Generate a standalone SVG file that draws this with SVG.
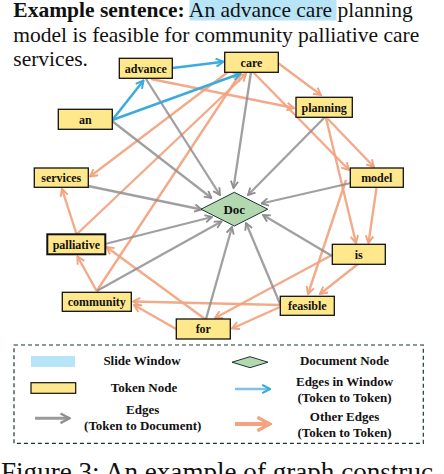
<svg xmlns="http://www.w3.org/2000/svg" width="444" height="474" viewBox="0 0 444 474">
<style>
.tok rect{fill:#FFE88C;stroke:#111;stroke-width:1.3}
.tok text,.doc text{font-family:"Liberation Serif",serif;font-weight:bold;font-size:12px;text-anchor:middle;fill:#111}
.doc polygon{fill:#B3D8B0;stroke:#1d3535;stroke-width:1}
.g{stroke:#8f8f8f;stroke-opacity:0.85;stroke-width:2.3;fill:none;marker-end:url(#ag)}
.o{stroke:#F2A37F;stroke-opacity:0.92;stroke-width:2.4;fill:none;marker-end:url(#ao)}
.b{stroke:#3BABDF;stroke-width:2.5;fill:none;marker-end:url(#ab)}
.lg{font-family:"Liberation Serif",serif;font-weight:bold;font-size:13px;text-anchor:middle;fill:#111}
.main{font-family:"Liberation Serif",serif;font-size:21.5px;fill:#111}
</style>
<defs>
<marker id="ag" viewBox="0 0 10 10" refX="9" refY="5" markerWidth="4" markerHeight="4" orient="auto" markerUnits="strokeWidth"><path d="M1.5,1 L9,5 L1.5,9" fill="none" stroke="#8f8f8f" stroke-width="2"/></marker>
<marker id="ao" viewBox="0 0 10 10" refX="9" refY="5" markerWidth="4" markerHeight="4" orient="auto" markerUnits="strokeWidth"><path d="M1.5,1 L9,5 L1.5,9" fill="none" stroke="#F2A37F" stroke-width="2"/></marker>
<marker id="ab" viewBox="0 0 10 10" refX="9" refY="5" markerWidth="4" markerHeight="4" orient="auto" markerUnits="strokeWidth"><path d="M1.5,1 L9,5 L1.5,9" fill="none" stroke="#3BABDF" stroke-width="2"/></marker>
</defs>
<rect x="0" y="0" width="444" height="474" fill="#fff"/>
<rect x="189.5" y="-0.5" width="147" height="21" fill="#B8E4F7"/>
<text class="main" x="13.3" y="16.8"><tspan font-weight="bold">Example sentence:</tspan> An advance care planning</text>
<text class="main" x="13.3" y="41.5">model is feasible for community palliative care</text>
<text class="main" x="13.3" y="66">services.</text>
<g id="connectors">
<line class="o" x1="151" y1="79" x2="294" y2="108"/>
<line class="o" x1="278" y1="63" x2="321" y2="95"/>
<line class="o" x1="253" y1="72" x2="349" y2="170"/>
<line class="o" x1="326" y1="117" x2="374" y2="167"/>
<line class="o" x1="326" y1="118" x2="356" y2="243"/>
<line class="o" x1="376.5" y1="188" x2="368.5" y2="243"/>
<line class="o" x1="346" y1="180" x2="308" y2="294"/>
<line class="o" x1="358" y1="264" x2="320" y2="294"/>
<line class="o" x1="332" y1="255" x2="215" y2="318"/>
<line class="o" x1="280" y1="307" x2="232" y2="328.5"/>
<line class="o" x1="280" y1="305" x2="133" y2="301.5"/>
<line class="o" x1="177" y1="329.5" x2="134" y2="305"/>
<line class="o" x1="205" y1="319" x2="106.5" y2="247"/>
<line class="o" x1="96.7" y1="291" x2="77.5" y2="256.5"/>
<line class="o" x1="96.7" y1="291" x2="240" y2="74"/>
<line class="o" x1="77" y1="234" x2="246" y2="74"/>
<line class="o" x1="76.5" y1="234" x2="62" y2="189"/>
<line class="o" x1="228" y1="72" x2="90" y2="176.5"/>
<line class="g" x1="112" y1="121" x2="211.5" y2="198"/>
<line class="g" x1="146" y1="79" x2="220" y2="195"/>
<line class="g" x1="251" y1="72" x2="233.5" y2="188"/>
<line class="g" x1="325" y1="117" x2="248" y2="195"/>
<line class="g" x1="351" y1="183" x2="261.5" y2="203.5"/>
<line class="g" x1="332" y1="256" x2="263" y2="215"/>
<line class="g" x1="280.5" y1="305" x2="246" y2="223"/>
<line class="g" x1="206" y1="319" x2="232" y2="227"/>
<line class="g" x1="96.7" y1="291" x2="221.5" y2="221.5"/>
<line class="g" x1="105" y1="244" x2="212" y2="217"/>
<line class="g" x1="88" y1="186" x2="201.5" y2="209.5"/>
<line class="b" x1="112.3" y1="120" x2="143.5" y2="80.5"/>
<line class="b" x1="112.3" y1="120" x2="240.5" y2="73.5"/>
<line class="b" x1="172.5" y1="68" x2="223.5" y2="61.7"/>
</g>
<g id="node-an" class="tok"><rect x="58.3" y="109.3" width="54" height="20"/><text x="85.3" y="123.5">an</text></g>
<g id="node-advance" class="tok"><rect x="119.3" y="58.3" width="53" height="20"/><text x="145.8" y="72.5">advance</text></g>
<g id="node-care" class="tok"><rect x="224.7" y="52.3" width="53.6" height="20"/><text x="251.5" y="66.5">care</text></g>
<g id="node-planning" class="tok"><rect x="296" y="97.3" width="56.3" height="20"/><text x="324.2" y="111.5">planning</text></g>
<g id="node-model" class="tok"><rect x="350.3" y="168" width="53" height="19.3"/><text x="376.8" y="182">model</text></g>
<g id="node-is" class="tok"><rect x="332.3" y="244.3" width="53" height="20"/><text x="358.8" y="258.5">is</text></g>
<g id="node-feasible" class="tok"><rect x="280.3" y="296.3" width="54" height="19"/><text x="307.3" y="310">feasible</text></g>
<g id="node-for" class="tok"><rect x="176.3" y="319" width="54" height="20"/><text x="203.3" y="333.2">for</text></g>
<g id="node-community" class="tok"><rect x="62.3" y="292.3" width="69" height="19"/><text x="96.8" y="306">community</text></g>
<g id="node-palliative" class="tok"><rect x="47.3" y="234.3" width="58" height="20" style="stroke-width:2"/><text x="76.3" y="248.5">palliative</text></g>
<g id="node-services" class="tok"><rect x="34.3" y="168" width="54" height="19.3"/><text x="61.3" y="182">services</text></g>
<g id="node-doc" class="doc"><polygon points="201,209.2 234.3,192.3 267.7,209.2 234.3,226"/><text x="234.3" y="213.8" style="font-size:13px">Doc</text></g>
<g id="legend">
<rect x="14" y="345" width="409.3" height="98.3" fill="none" stroke="#1d3535" stroke-width="1.2" stroke-dasharray="4,3"/>
<rect x="31" y="356" width="44" height="11" fill="#B8E4F7"/>
<text class="lg" x="142" y="365">Slide Window</text>
<polygon points="232,362.2 250,356.7 268,362.2 250,367.7" fill="#B3D8B0" stroke="#1d3535" stroke-width="1"/>
<text class="lg" x="344.5" y="365">Document Node</text>
<rect x="31" y="382.7" width="44.7" height="10.6" fill="#FFE88C" stroke="#111" stroke-width="1.2"/>
<text class="lg" x="144" y="391.5">Token Node</text>
<line x1="235" y1="389" x2="270" y2="389" stroke="#7CC3E8" stroke-width="2.6" marker-end="url(#ab)"/>
<text class="lg" x="344.5" y="385.5">Edges in Window</text>
<text class="lg" x="344.5" y="401.5">(Token to Token)</text>
<line x1="35" y1="418.3" x2="69.5" y2="418.3" stroke="#9a9a9a" stroke-width="3" marker-end="url(#ag)"/>
<text class="lg" x="142.7" y="413.5">Edges</text>
<text class="lg" x="142.7" y="430">(Token to Document)</text>
<line x1="235" y1="424" x2="270" y2="424" stroke="#F2A37F" stroke-width="4.2" marker-end="url(#ao)"/>
<text class="lg" x="344.5" y="420.5">Other Edges</text>
<text class="lg" x="344.5" y="436.5">(Token to Token)</text>
</g>
<text class="main" x="1" y="481" style="font-size:27px" textLength="441" lengthAdjust="spacingAndGlyphs">Figure 3: An example of graph construc-</text>
</svg>
